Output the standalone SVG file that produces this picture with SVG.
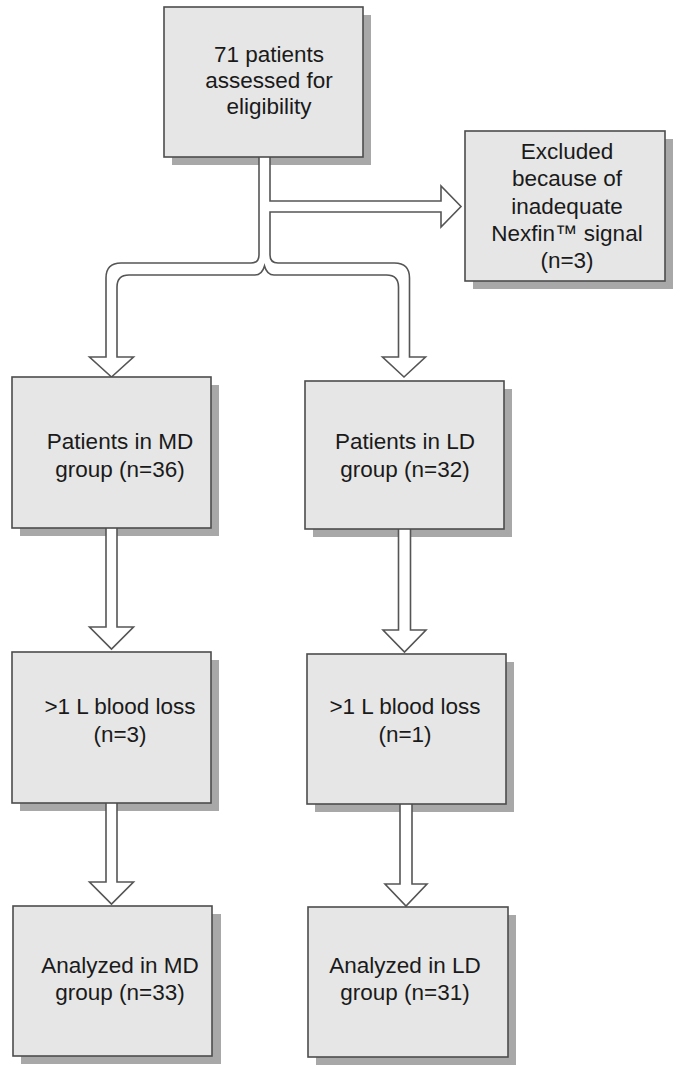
<svg xmlns="http://www.w3.org/2000/svg" width="678" height="1077" viewBox="0 0 678 1077">
<style>
.shadow{fill:#a8a8a8;}
.box{fill:#e6e6e6;stroke:#4d4d4d;stroke-width:1.6;}
.conn{fill:#ffffff;stroke:#555555;stroke-width:1.6;stroke-linejoin:miter;}
text{font-family:"Liberation Sans",Arial,sans-serif;font-size:22.5px;fill:#1a1a1a;text-anchor:middle;}
</style>
<rect width="678" height="1077" fill="#ffffff"/>
<g id="shadows">
<rect class="shadow" x="172" y="15" width="199" height="150"/>
<rect class="shadow" x="473" y="139" width="200" height="150"/>
<rect class="shadow" x="20" y="385" width="199" height="151"/>
<rect class="shadow" x="313" y="389" width="199" height="148"/>
<rect class="shadow" x="20" y="660" width="199" height="151"/>
<rect class="shadow" x="315" y="662" width="199" height="150"/>
<rect class="shadow" x="21" y="914" width="200" height="150"/>
<rect class="shadow" x="316" y="915" width="200" height="150"/>
</g>
<g id="connectors">
<path class="conn" d="M259,150 V255 Q259,263 251,263 H121 Q106,263 106,278 V357 H89.5 L111.5,377 L133.5,357 H117 V287 Q117,275 129,275 H255 Q262,275 264.5,266 Q267,275 274,275 H386.5 Q398.5,275 398.5,287 V357 H382.5 L404,377 L425.5,357 H409.5 V278 Q409.5,263 394.5,263 H278 Q270,263 270,255 V212 H441 V227 L461,206.5 L441,186 V201 H270 V150 Z"/>
<path class="conn" d="M106,525 V627 H89.5 L111.5,649 L133.5,627 H117 V525 Z"/>
<path class="conn" d="M398.5,525 V630 H383 L404.5,652 L426,630 H410.5 V525 Z"/>
<path class="conn" d="M106,800 V882 H89.5 L111.5,904 L133.5,882 H117 V800 Z"/>
<path class="conn" d="M400,800 V884 H385 L406,906 L427,884 H412 V800 Z"/>
</g>
<g id="node-assessed">
<rect class="box" x="164" y="7" width="199" height="150"/>
<text x="269" y="62">71 patients</text>
<text x="269" y="88">assessed for</text>
<text x="269" y="114">eligibility</text>
</g>
<g id="node-excluded">
<rect class="box" x="465" y="131" width="200" height="150"/>
<text x="567" y="159">Excluded</text>
<text x="567" y="186">because of</text>
<text x="567" y="214">inadequate</text>
<text x="567" y="241">Nexfin™ signal</text>
<text x="567" y="268">(n=3)</text>
</g>
<g id="node-md-patients">
<rect class="box" x="12" y="377" width="199" height="151"/>
<text x="120" y="449">Patients in MD</text>
<text x="120" y="477">group (n=36)</text>
</g>
<g id="node-ld-patients">
<rect class="box" x="305" y="381" width="199" height="148"/>
<text x="405" y="449">Patients in LD</text>
<text x="405" y="477">group (n=32)</text>
</g>
<g id="node-md-bloodloss">
<rect class="box" x="12" y="652" width="199" height="151"/>
<text x="120" y="714">&gt;1 L blood loss</text>
<text x="120" y="742">(n=3)</text>
</g>
<g id="node-ld-bloodloss">
<rect class="box" x="307" y="654" width="199" height="150"/>
<text x="405" y="714">&gt;1 L blood loss</text>
<text x="405" y="742">(n=1)</text>
</g>
<g id="node-md-analyzed">
<rect class="box" x="13" y="906" width="199" height="150"/>
<text x="120" y="973">Analyzed in MD</text>
<text x="120" y="1000">group (n=33)</text>
</g>
<g id="node-ld-analyzed">
<rect class="box" x="308" y="907" width="200" height="150"/>
<text x="405" y="973">Analyzed in LD</text>
<text x="405" y="1000">group (n=31)</text>
</g>
</svg>
